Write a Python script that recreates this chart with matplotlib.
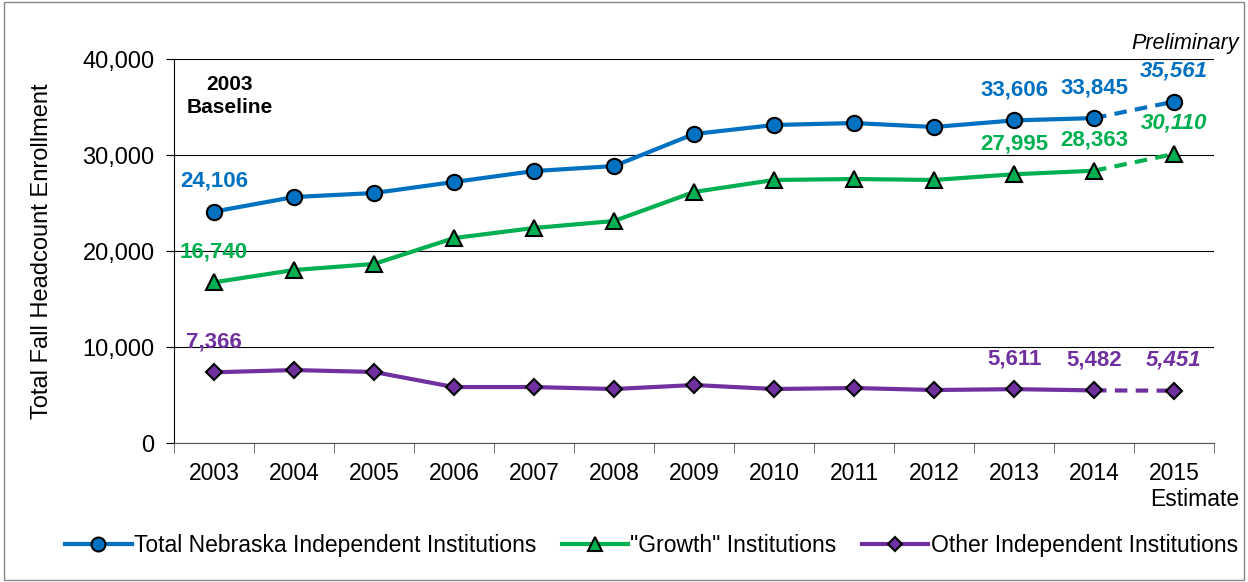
import matplotlib
matplotlib.use('Agg')
import matplotlib.pyplot as plt
from matplotlib.lines import Line2D
from matplotlib.patches import Rectangle

plt.rcParams['font.family'] = ['Liberation Sans', 'DejaVu Sans']

# Dados
anos = ['2003', '2004', '2005', '2006', '2007', '2008', '2009',
        '2010', '2011', '2012', '2013', '2014', '2015']
total = [24106, 25625, 26040, 27190, 28330, 28850, 32190,
         33125, 33330, 32920, 33606, 33845, 35561]
growth = [16740, 18020, 18650, 21350, 22400, 23125, 26150,
          27400, 27500, 27400, 27995, 28363, 30110]
other = [7366, 7600, 7400, 5830, 5830, 5625, 6040,
         5625, 5730, 5520, 5611, 5482, 5451]

# indices com rotulo
rotulos = [0, 10, 11, 12]

series = [
    (total, '#0070C0', 'o', 11, 'Total Nebraska Independent Institutions'),
    (growth, '#00B050', '^', 11, '"Growth" Institutions'),
    (other, '#7030A0', 'D', 8, 'Other Independent Institutions'),
]

fig = plt.figure(figsize=(12.48, 5.82), dpi=100)
ax = fig.add_axes([0.1394, 0.2388, 0.8334, 0.6598])

x = list(range(len(anos)))
handles = []
for vals, cor, mk, ms, nome in series:
    ax.plot(x[:-1], vals[:-1], color=cor, lw=3, zorder=3)
    ax.plot(x[-2:], vals[-2:], color=cor, lw=3, ls=(0, (3, 2)), zorder=3)
    ax.plot(x, vals, ls='none', marker=mk, ms=ms, mfc=cor, mec='black',
            mew=1.5, zorder=4)
    for i in rotulos:
        ax.annotate(f'{vals[i]:,}', (x[i], vals[i]), xytext=(0, 22),
                    textcoords='offset points', ha='center', va='center',
                    color=cor, fontsize=16, fontweight='bold',
                    fontstyle='italic' if i == 12 else 'normal')
    handles.append(Line2D([], [], color=cor, lw=3, marker=mk, ms=ms - 1,
                          mfc=cor, mec='black', mew=1.5, label=nome))

ax.set_xlim(-0.5, 12.5)
ax.set_ylim(0, 40000)
ax.set_yticks([0, 10000, 20000, 30000, 40000])
ax.set_yticklabels(['0', '10,000', '20,000', '30,000', '40,000'])
ax.set_xticks(x)
ax.set_xticklabels(anos)
ax.set_xticks([i - 0.5 for i in range(len(anos) + 1)], minor=True)
ax.tick_params(axis='x', which='major', length=0, pad=14, labelsize=16.5)
ax.tick_params(axis='x', which='minor', length=7, color='#555555')
ax.tick_params(axis='y', length=6, labelsize=17, pad=8)
ax.grid(axis='y', color='black', lw=0.8)
ax.set_axisbelow(True)
for s in ['top', 'right']:
    ax.spines[s].set_visible(False)
ax.spines['bottom'].set_color('#555555')
ax.set_ylabel('Total Fall Headcount Enrollment', fontsize=17, labelpad=21)

ax.text(0.2, 38300, '2003\nBaseline', ha='center', va='top', fontsize=15,
        fontweight='bold', linespacing=1.25)
fig.text(0.993, 0.926, 'Preliminary', ha='right', va='center', fontsize=15.5,
         fontstyle='italic')
fig.text(0.993, 0.142, 'Estimate', ha='right', va='center', fontsize=16.5)

fig.legend(handles=handles, loc='center', bbox_to_anchor=(0.522, 0.062),
           ncol=3, frameon=False, fontsize=16.5, handlelength=2.9,
           handletextpad=0.1, columnspacing=1.1)

fig.patches.append(Rectangle((0.003, 0.003), 0.994, 0.994,
                             transform=fig.transFigure, fill=False,
                             edgecolor='#888888', lw=1))

fig.savefig('out.png', dpi=100)
